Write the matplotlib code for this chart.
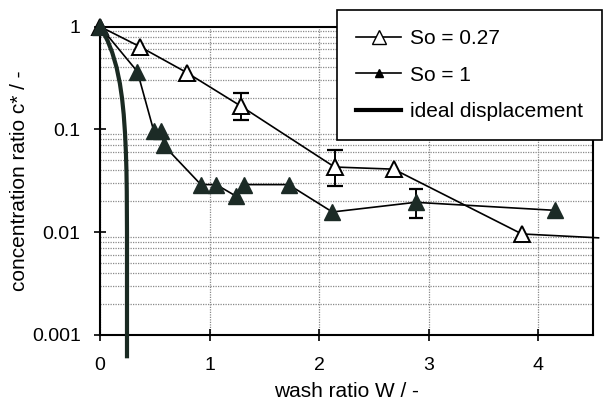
import matplotlib
matplotlib.use("Agg")
import matplotlib.pyplot as plt
from matplotlib.lines import Line2D

plt.rcParams['font.family'] = ['Liberation Sans', 'DejaVu Sans']

# So = 0.27 (open triangles)
w_027 = [0.0, 0.36, 0.79, 1.29, 2.14, 2.68, 3.85]
c_027 = [1.0, 0.64, 0.357, 0.167, 0.043, 0.041, 0.0096]
err_w_027 = [1.29, 2.14]
err_c_027 = [0.167, 0.043]
err_lo_027 = [0.122, 0.028]
err_hi_027 = [0.228, 0.063]
tail_w_027 = [3.85, 4.55]
tail_c_027 = [0.0096, 0.0088]

# So = 1 (filled triangles)
w_1 = [0.0, 0.34, 0.49, 0.56, 0.58, 0.92, 1.06, 1.24, 1.31, 1.72, 2.12, 2.88, 4.15]
c_1 = [1.0, 0.365, 0.096, 0.096, 0.07, 0.029, 0.029, 0.0224, 0.029, 0.029,
       0.0157, 0.0195, 0.0163]
err_w_1 = [2.88]
err_c_1 = [0.0195]
err_lo_1 = [0.0137]
err_hi_1 = [0.026]

# ideal displacement
w_ideal = [0.0, 0.03, 0.07, 0.11, 0.15, 0.18, 0.2, 0.215, 0.227, 0.235,
           0.24, 0.243, 0.245, 0.245]
c_ideal = [1.0, 0.88, 0.72, 0.56, 0.4, 0.28, 0.2, 0.14, 0.092, 0.06,
           0.04, 0.025, 0.01, 0.00062]

fig = plt.figure(figsize=(6.07, 4.03), dpi=100)
ax = fig.add_axes([0.165, 0.169, 0.812, 0.765])

ax.set_yscale('log')
ax.set_xlim(0, 4.5)
ax.set_ylim(0.001, 1)

# grid: vertical at integers, horizontal at minor ticks
ax.set_xticks([0, 1, 2, 3, 4])
ax.set_yticks([0.001, 0.01, 0.1, 1])
ax.set_yticklabels(['0.001', '0.01', '0.1', '1'])
ax.grid(True, which='major', axis='x', color='#8a8a8a', linestyle=(0, (1, 1)), linewidth=0.9)
ax.grid(True, which='minor', axis='y', color='#8a8a8a', linestyle=(0, (1, 1)), linewidth=0.9)
ax.tick_params(axis='x', which='major', direction='inout', length=8, width=1.2,
               labelsize=14, pad=12)
ax.tick_params(axis='y', which='major', direction='inout', length=8, width=1.2,
               labelsize=14, pad=10)
ax.tick_params(axis='y', which='minor', length=0)
for s in ax.spines.values():
    s.set_linewidth(1.5)

ax.plot(w_ideal, c_ideal, color='#1a2a22', linewidth=3, clip_on=False, zorder=3)

ax.plot(tail_w_027, tail_c_027, color='black', linewidth=1.2, clip_on=False, zorder=4)
ax.plot(w_027, c_027, color='black', linewidth=1.2, marker='^', markersize=12,
        markerfacecolor='white', markeredgecolor='black', markeredgewidth=1.4,
        clip_on=False, zorder=5)
ax.errorbar(err_w_027, err_c_027,
            yerr=[[c - lo for c, lo in zip(err_c_027, err_lo_027)],
                  [hi - c for c, hi in zip(err_c_027, err_hi_027)]],
            fmt='none', ecolor='black', elinewidth=1.4, capsize=6, capthick=1.6, zorder=4)

ax.plot(w_1, c_1, color='black', linewidth=1.2, marker='^', markersize=11,
        markerfacecolor='#1c2b26', markeredgecolor='#1c2b26',
        clip_on=False, zorder=6)
ax.errorbar(err_w_1, err_c_1,
            yerr=[[c - lo for c, lo in zip(err_c_1, err_lo_1)],
                  [hi - c for c, hi in zip(err_c_1, err_hi_1)]],
            fmt='none', ecolor='black', elinewidth=1.4, capsize=5, capthick=1.6, zorder=4)

ax.set_xlabel('wash ratio W / -', fontsize=15, labelpad=6)
ax.set_ylabel('concentration ratio c* / -', fontsize=15, labelpad=2)

handles = [
    Line2D([], [], color='black', linewidth=1.2, marker='^', markersize=10,
           markerfacecolor='white', markeredgecolor='black'),
    Line2D([], [], color='black', linewidth=1.2, marker='^', markersize=6,
           markerfacecolor='black'),
    Line2D([], [], color='black', linewidth=3),
]
leg = fig.legend(handles, ['So = 0.27', 'So = 1', 'ideal displacement'],
                 loc='upper left', bbox_to_anchor=(0.555, 0.975), borderaxespad=0,
                 fontsize=15, frameon=True, fancybox=False, edgecolor='black',
                 framealpha=1, handlelength=2.2, labelspacing=0.85, borderpad=0.9,
                 handletextpad=0.4)
leg.get_frame().set_linewidth(1.2)

fig.savefig('out.png', dpi=100)
